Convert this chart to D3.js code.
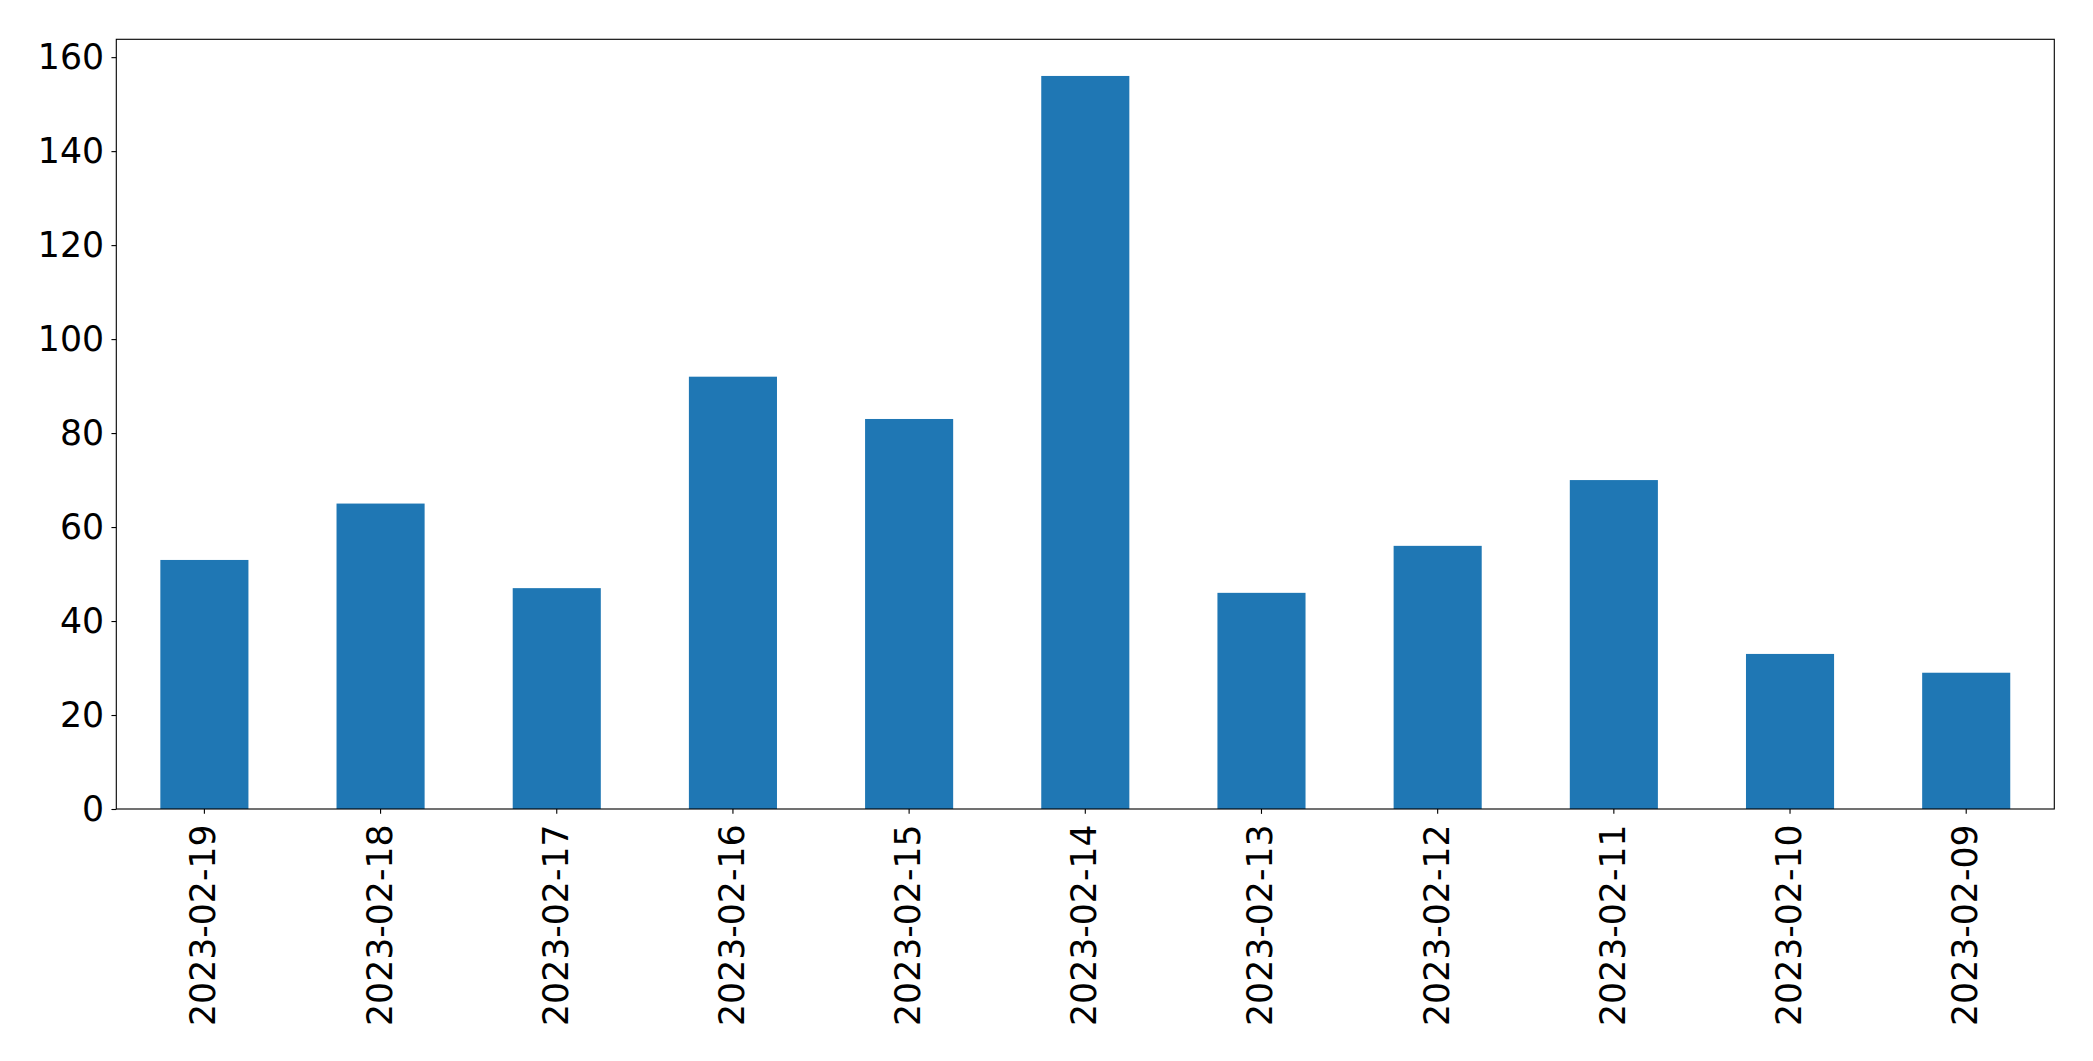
<!DOCTYPE html>
<html>
<head>
<meta charset="utf-8">
<script src="https://cdn.jsdelivr.net/npm/d3@7"></script>
<style>
  html, body { margin: 0; padding: 0; background: #fff; }
  svg { display: block; }
  text { font-family: "DejaVu Sans", sans-serif; fill: #000; }
</style>
</head>
<body>
<svg id="chart" width="2093" height="1061"></svg>
<script>
const categories = ["2023-02-19","2023-02-18","2023-02-17","2023-02-16","2023-02-15","2023-02-14","2023-02-13","2023-02-12","2023-02-11","2023-02-10","2023-02-09"];
const values = [53, 65, 47, 92, 83, 156, 46, 56, 70, 33, 29];
const yTicks = [0, 20, 40, 60, 80, 100, 120, 140, 160];

const W = 2093, H = 1061;
const margin = { left: 116.3, right: W - 2054.3, top: 39.3, bottom: H - 809 };
const plotW = W - margin.left - margin.right;
const plotH = H - margin.top - margin.bottom;
const fontPx = 34.7;
const tickLen = 4.86;
const yPad = 7.4;
const xOffset = 15.4;
const lw = 1.11;

const svg = d3.select("#chart");
const g = svg.append("g").attr("transform", `translate(${margin.left},${margin.top})`);

const x = d3.scaleBand().domain(categories).range([0, plotW]).paddingInner(0.5).paddingOuter(0.25);
const yMax = d3.max(values) * 1.05;
const y = d3.scaleLinear().domain([0, yMax]).range([plotH, 0]);

g.selectAll("rect.bar").data(values).join("rect")
  .attr("class", "bar")
  .attr("x", (d, i) => x(categories[i]))
  .attr("width", x.bandwidth())
  .attr("y", d => y(d))
  .attr("height", d => y(0) - y(d))
  .attr("fill", "#1f77b4");

// frame
g.append("rect").attr("x", 0).attr("y", 0).attr("width", plotW).attr("height", plotH)
  .attr("fill", "none").attr("stroke", "#000").attr("stroke-width", lw);

// y axis
const yAxis = d3.axisLeft(y).tickValues(yTicks).tickSize(tickLen).tickPadding(yPad).tickFormat(d3.format("d"));
const ya = g.append("g").call(yAxis);
ya.select(".domain").remove();
ya.selectAll(".tick line").attr("stroke", "#000").attr("stroke-width", lw);
ya.selectAll(".tick text").attr("font-size", fontPx).attr("font-family", "DejaVu Sans, sans-serif").attr("fill", "#000");

// x axis
const xAxis = d3.axisBottom(x).tickSize(tickLen).tickPadding(4);
const xa = g.append("g").attr("transform", `translate(0,${plotH})`).call(xAxis);
xa.select(".domain").remove();
xa.selectAll(".tick line").attr("stroke", "#000").attr("stroke-width", lw);
xa.selectAll(".tick text")
  .attr("font-size", fontPx).attr("font-family", "DejaVu Sans, sans-serif").attr("fill", "#000")
  .attr("text-anchor", "end")
  .attr("dy", null)
  .attr("dominant-baseline", "central")
  .attr("y", 0)
  .attr("transform", `translate(-1,${xOffset}) rotate(-90)`);
</script>
</body>
</html>
